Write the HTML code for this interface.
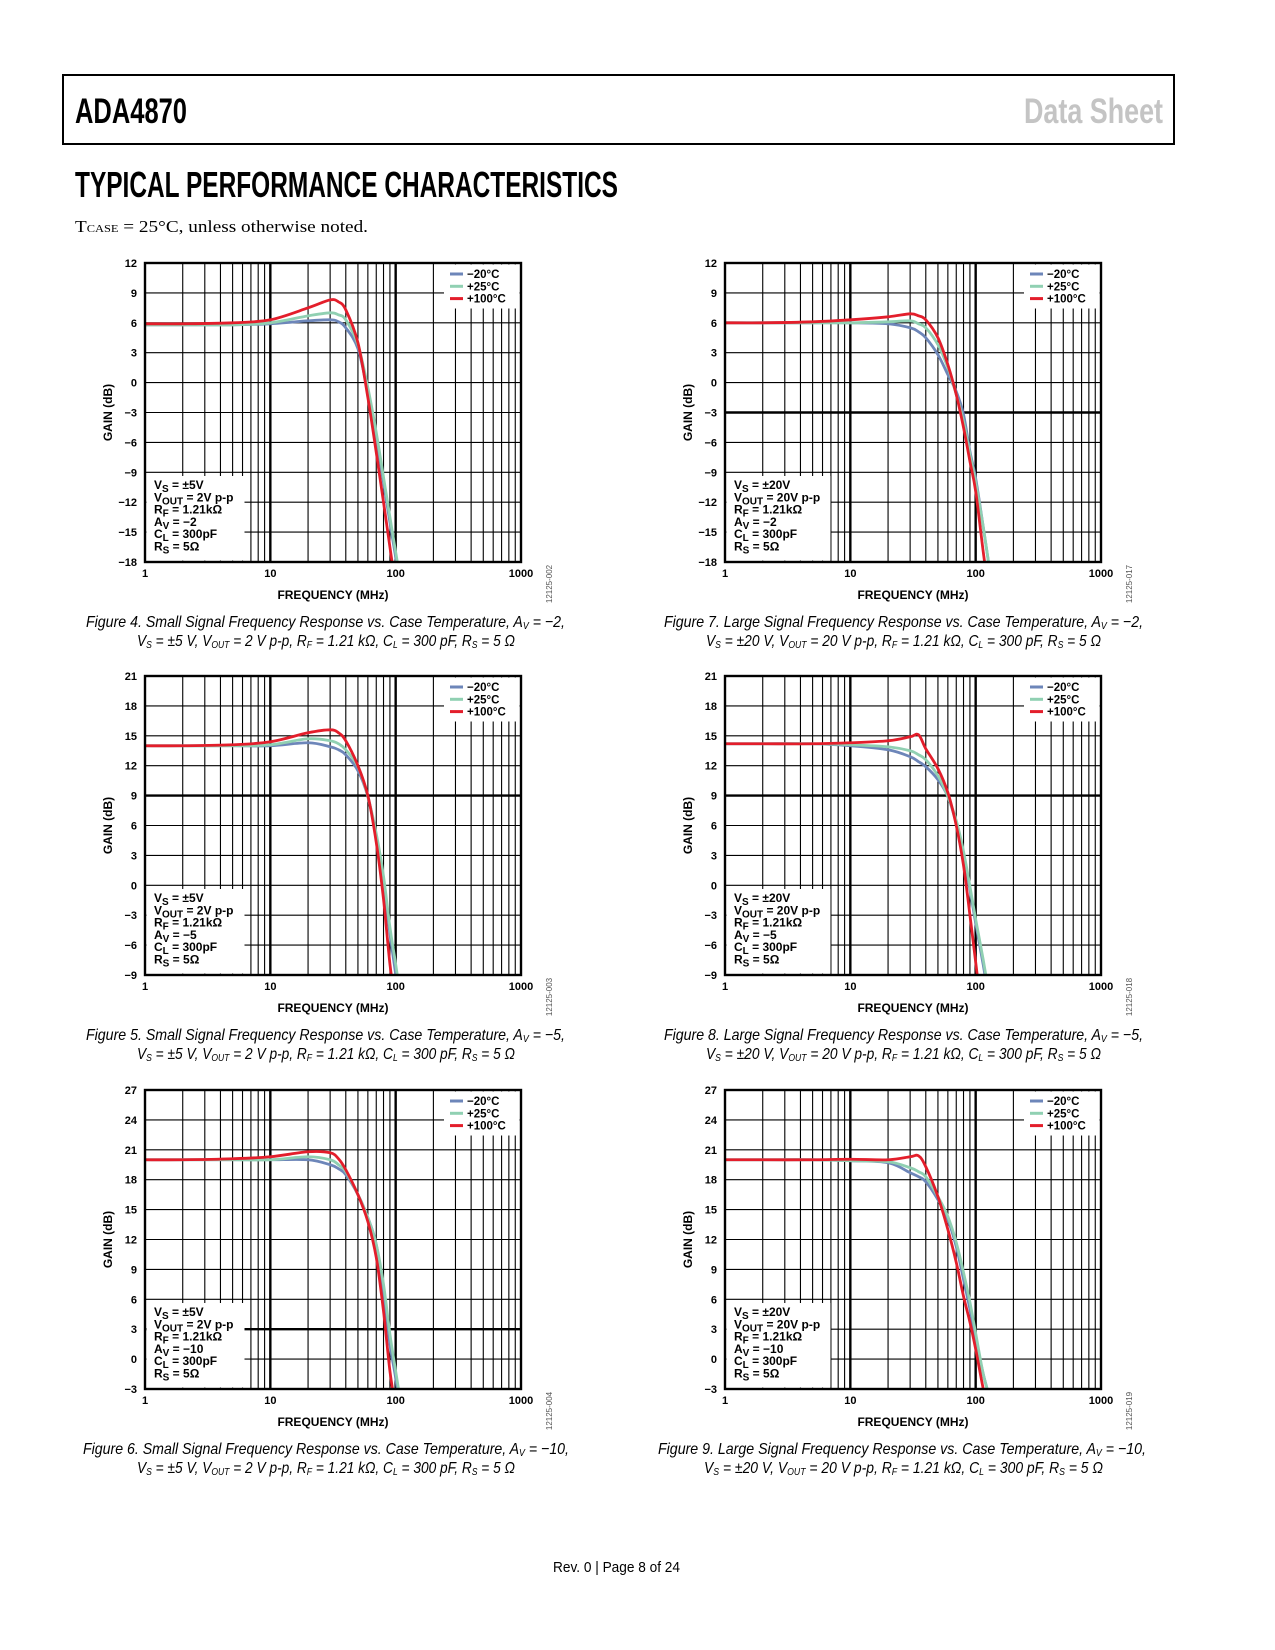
<!DOCTYPE html>
<html><head><meta charset="utf-8"><style>
html,body{margin:0;padding:0;background:#fff;}
svg{display:block;}
text{font-family:"Liberation Sans",sans-serif;}
</style></head><body>
<svg id="page" width="1275" height="1650" viewBox="0 0 1275 1650" xmlns="http://www.w3.org/2000/svg">
<rect x="0" y="0" width="1275" height="1650" fill="#fff"/>
<rect x="63" y="75" width="1111" height="69" fill="none" stroke="#000" stroke-width="2"/>
<text x="75" y="123" font-size="35" font-weight="bold" textLength="112" lengthAdjust="spacingAndGlyphs">ADA4870</text>
<text x="1024" y="123" font-size="35" font-weight="bold" fill="#c4c4c4" textLength="139" lengthAdjust="spacingAndGlyphs">Data Sheet</text>
<text x="75" y="197" font-size="36" font-weight="bold" textLength="543" lengthAdjust="spacingAndGlyphs">TYPICAL PERFORMANCE CHARACTERISTICS</text>
<text x="75" y="232" font-size="17" style="font-family:'Liberation Serif',serif" textLength="293" lengthAdjust="spacingAndGlyphs">T<tspan font-size="11">CASE</tspan> = 25°C, unless otherwise noted.</text>
<text x="553" y="1572" font-size="15" textLength="127" lengthAdjust="spacingAndGlyphs">Rev. 0 | Page 8 of 24</text>
<g id="charts"></g>
</svg>
<script>
// Shared frequency axis (MHz)
const F = [1,2,5,10,20,30,35,40,50,60,70,80,90,100,115,130];
const xTickLabels = ["1","10","100","1000"];
const seriesNames = ["−20°C","+25°C","+100°C"];
// Figure 4 (Av=-2 small signal)
const c1Blue  = [5.8,5.8,5.8,5.9,6.2,6.3,6.1,5.5,3.4,-1,-5.5,-10,-14,-17.5,-22,-26];
const c1Green = [5.8,5.8,5.8,6.0,6.7,7.0,6.8,6.3,3.8,-0.5,-5,-9.5,-13.5,-17,-21.5,-25];
const c1Red   = [5.9,5.9,6.0,6.3,7.5,8.3,8.1,7.3,4,-1.5,-7,-12,-16.5,-20.5,-25,-29];
// Figure 5 (Av=-5 small)
const c2Blue  = [14,14,14,14,14.3,13.9,13.6,13.1,11.5,8.9,4.9,0.2,-4.8,-8.9,-14,-18];
const c2Green = [14,14,14,14.1,14.7,14.5,14.2,13.6,11.9,8.9,5.2,0.9,-4.2,-7.9,-13,-17];
const c2Red   = [14,14,14.1,14.4,15.3,15.6,15.3,14.5,12,9,4.3,-1.4,-7.9,-12,-17,-21];
// Figure 6 (Av=-10 small)
const c3Blue  = [20,20,20,20,20,19.5,19.1,18.5,16.5,14.2,11.5,6.8,1.5,-1.9,-7,-11];
const c3Green = [20,20,20,20,20.3,20,19.5,18.8,16.5,14.2,11.5,7.5,2.5,-1.2,-6,-10];
const c3Red   = [20,20,20.1,20.3,20.8,20.7,20.1,19,16.5,13.8,10.2,4.8,-1.2,-5,-10,-14];
// Figure 7 (Av=-2 large)
const c7Blue  = [6,6,6,6,5.9,5.5,5.1,4.5,2.8,0.8,-0.9,-3.2,-6.9,-9.6,-14.5,-19];
const c7Green = [6,6,6,6,6.1,6.2,5.9,5.5,3.8,1.5,-1.2,-3.9,-7.2,-10,-14.5,-19];
const c7Red   = [6,6,6.1,6.3,6.6,6.9,6.7,6.3,4.5,1.8,-1.2,-4.5,-7.9,-10.9,-17,-22];
// Figure 8 (Av=-5 large)
const c8Blue  = [14.2,14.2,14.2,14,13.6,12.9,12.4,11.9,10.6,8.9,6.2,2.9,-0.4,-3.8,-8,-12];
const c8Green = [14.2,14.2,14.2,14.1,13.9,13.5,13.1,12.6,11,8.9,6.5,3.4,-0.1,-3.4,-7.5,-11.5];
const c8Red   = [14.2,14.2,14.2,14.3,14.5,14.9,15.1,13.7,11.7,9.3,6,2,-3,-7.7,-14,-19];
// Figure 9 (Av=-10 large)
const c9Blue  = [20,20,20,19.9,19.7,18.7,18.3,17.8,16,14,11.3,8,5,2,-1.5,-4];
const c9Green = [20,20,20,19.9,19.8,19.2,18.8,18.3,16.3,14.3,11.7,8.7,5.7,2.6,-1.5,-4];
const c9Red   = [20,20,20,20.05,20,20.3,20.4,19.3,16.3,13,9.7,6.3,3.7,1,-3,-6];
// Y ranges
const yRange1 = [-18,12], yRange2 = [-9,21], yRange3 = [-3,27];

const NS = "http://www.w3.org/2000/svg";
const COLORS = ["#6d86b9","#90d0b2","#e31e2b"];
const W = 376, H = 299;
const root = document.getElementById('charts');

function mk(tag, attrs, parent){
  const e = document.createElementNS(NS, tag);
  for (const k in attrs) e.setAttribute(k, attrs[k]);
  if (parent) parent.appendChild(e);
  return e;
}
function addSubText(t, parts, subSize, shift){
  let cur = 0;
  parts.forEach((p,i)=>{
    const ts = mk('tspan', {}, t);
    ts.textContent = p;
    const target = (i % 2 === 1) ? shift : 0;
    if (target !== cur){ ts.setAttribute('dy', target - cur); cur = target; }
    if (i % 2 === 1) ts.setAttribute('font-size', subSize);
  });
}

const charts = [
 {id:1, x:145, y:263, yr:yRange1, s:[c1Blue,c1Green,c1Red], heavyY:null, code:"12125-002",
  ann:[["V","S"," = ±5V"],["V","OUT"," = 2V p-p"],["R","F"," = 1.21kΩ"],["A","V"," = −2"],["C","L"," = 300pF"],["R","S"," = 5Ω"]], boxW:98,
  cap1:["Figure 4. Small Signal Frequency Response vs. Case Temperature, A","V"," = −2,"],
  cap2:["V","S"," = ±5 V, V","OUT"," = 2 V p-p, R","F"," = 1.21 kΩ, C","L"," = 300 pF, R","S"," = 5 Ω"], c1:[86,479], c2:[137,378]},
 {id:2, x:145, y:676, yr:yRange2, s:[c2Blue,c2Green,c2Red], heavyY:9, code:"12125-003",
  ann:[["V","S"," = ±5V"],["V","OUT"," = 2V p-p"],["R","F"," = 1.21kΩ"],["A","V"," = −5"],["C","L"," = 300pF"],["R","S"," = 5Ω"]], boxW:98,
  cap1:["Figure 5. Small Signal Frequency Response vs. Case Temperature, A","V"," = −5,"],
  cap2:["V","S"," = ±5 V, V","OUT"," = 2 V p-p, R","F"," = 1.21 kΩ, C","L"," = 300 pF, R","S"," = 5 Ω"], c1:[86,479], c2:[137,378]},
 {id:3, x:145, y:1090, yr:yRange3, s:[c3Blue,c3Green,c3Red], heavyY:3, code:"12125-004",
  ann:[["V","S"," = ±5V"],["V","OUT"," = 2V p-p"],["R","F"," = 1.21kΩ"],["A","V"," = −10"],["C","L"," = 300pF"],["R","S"," = 5Ω"]], boxW:98,
  cap1:["Figure 6. Small Signal Frequency Response vs. Case Temperature, A","V"," = −10,"],
  cap2:["V","S"," = ±5 V, V","OUT"," = 2 V p-p, R","F"," = 1.21 kΩ, C","L"," = 300 pF, R","S"," = 5 Ω"], c1:[83,486], c2:[137,378]},
 {id:7, x:725, y:263, yr:yRange1, s:[c7Blue,c7Green,c7Red], heavyY:-3, code:"12125-017",
  ann:[["V","S"," = ±20V"],["V","OUT"," = 20V p-p"],["R","F"," = 1.21kΩ"],["A","V"," = −2"],["C","L"," = 300pF"],["R","S"," = 5Ω"]], boxW:104,
  cap1:["Figure 7. Large Signal Frequency Response vs. Case Temperature, A","V"," = −2,"],
  cap2:["V","S"," = ±20 V, V","OUT"," = 20 V p-p, R","F"," = 1.21 kΩ, C","L"," = 300 pF, R","S"," = 5 Ω"], c1:[664,479], c2:[706,395]},
 {id:8, x:725, y:676, yr:yRange2, s:[c8Blue,c8Green,c8Red], heavyY:9, code:"12125-018",
  ann:[["V","S"," = ±20V"],["V","OUT"," = 20V p-p"],["R","F"," = 1.21kΩ"],["A","V"," = −5"],["C","L"," = 300pF"],["R","S"," = 5Ω"]], boxW:104,
  cap1:["Figure 8. Large Signal Frequency Response vs. Case Temperature, A","V"," = −5,"],
  cap2:["V","S"," = ±20 V, V","OUT"," = 20 V p-p, R","F"," = 1.21 kΩ, C","L"," = 300 pF, R","S"," = 5 Ω"], c1:[664,479], c2:[706,395]},
 {id:9, x:725, y:1090, yr:yRange3, s:[c9Blue,c9Green,c9Red], heavyY:null, code:"12125-019",
  ann:[["V","S"," = ±20V"],["V","OUT"," = 20V p-p"],["R","F"," = 1.21kΩ"],["A","V"," = −10"],["C","L"," = 300pF"],["R","S"," = 5Ω"]], boxW:104,
  cap1:["Figure 9. Large Signal Frequency Response vs. Case Temperature, A","V"," = −10,"],
  cap2:["V","S"," = ±20 V, V","OUT"," = 20 V p-p, R","F"," = 1.21 kΩ, C","L"," = 300 pF, R","S"," = 5 Ω"], c1:[658,488], c2:[704,399]}
];

charts.forEach(c=>{
  const g = mk('g', {transform:`translate(${c.x},${c.y})`}, root);
  
  
  const xs = f => W * Math.log10(f) / 3;
  const ys = v => H * (c.yr[1] - v) / (c.yr[1] - c.yr[0]);

  const grid = mk('g', {}, g);
  
  
  for (let d=0; d<3; d++){
    for (let m=1; m<=10; m++){
      const f = Math.pow(10,d)*m;
      const X = xs(f);
      const heavy = (m===10 && d<2);
      const ln = mk('line', {x1:X, x2:X, y1:0, y2:H, stroke:'#000', 'stroke-width': heavy?2.4:1.1}, grid);
      
      
    }
  }
  for (let v=c.yr[0]; v<=c.yr[1]; v+=3){
    const Y = ys(v);
    const ln = mk('line', {x1:0, x2:W, y1:Y, y2:Y, stroke:'#000', 'stroke-width': (v===c.heavyY)?2.4:1.1}, grid);
    
    
    const t = mk('text', {x:-8, y:Y+4, 'text-anchor':'end', 'font-size':11, 'font-weight':'bold'}, g);
    t.textContent = v < 0 ? '−' + (-v) : String(v);
    
    
  }
  xTickLabels.forEach((lab)=>{
    const t = mk('text', {x:xs(Number(lab)), y:H+15, 'text-anchor':'middle', 'font-size':11, 'font-weight':'bold'}, g);
    t.textContent = lab;
    
    
  });

  const cid = 'clip' + c.id;
  const cp = mk('clipPath', {id:cid}, g);
  mk('rect', {x:0, y:0, width:W, height:H}, cp);

  c.s.forEach((arr, si)=>{
    const pts = F.map((f,i)=>[xs(f), ys(arr[i])]);
    let d = `M${pts[0][0].toFixed(2)},${pts[0][1].toFixed(2)}`;
    for (let i=0;i<pts.length-1;i++){
      const p0 = pts[Math.max(0,i-1)], p1 = pts[i], p2 = pts[i+1], p3 = pts[Math.min(pts.length-1,i+2)];
      const k = 1/6;
      const c1x = p1[0] + (p2[0]-p0[0])*k, c1y = p1[1] + (p2[1]-p0[1])*k;
      const c2x = p2[0] - (p3[0]-p1[0])*k, c2y = p2[1] - (p3[1]-p1[1])*k;
      d += ` C${c1x.toFixed(2)},${c1y.toFixed(2)} ${c2x.toFixed(2)},${c2y.toFixed(2)} ${p2[0].toFixed(2)},${p2[1].toFixed(2)}`;
    }
    const p = mk('path', {d:d, fill:'none', stroke:COLORS[si], 'stroke-width':2.8, 'stroke-linejoin':'round', 'clip-path':`url(#${cid})`}, g);
    
    
  });

  const ab = mk('g', {}, g);
  
  
  mk('rect', {x:1.5, y:213, width:c.boxW, height:H-214.5, fill:'#fff'}, ab);
  c.ann.forEach((parts, i)=>{
    const t = mk('text', {x:9, y:226 + i*12.3, 'font-size':12, 'font-weight':'bold'}, ab);
    addSubText(t, parts, 10, 3);
  });

  const lg = mk('g', {}, g);
  
  
  mk('rect', {x:299, y:1.5, width:W-300.5, height:44, fill:'#fff'}, lg);
  seriesNames.forEach((nm, i)=>{
    const yy = 11 + i*12.3;
    const sw = mk('line', {x1:305, x2:318, y1:yy, y2:yy, stroke:COLORS[i], 'stroke-width':3}, lg);
    
    
    const t = mk('text', {x:322, y:yy+4, 'font-size':11.5, 'font-weight':'bold'}, lg);
    t.textContent = nm;
    
    
  });

  const fr = mk('rect', {x:0, y:0, width:W, height:H, fill:'none', stroke:'#000', 'stroke-width':2.4}, g);
  
  

  const xt = mk('text', {x:W/2, y:H+37, 'text-anchor':'middle', 'font-size':12, 'font-weight':'bold'}, g);
  xt.textContent = 'FREQUENCY (MHz)';
  
  
  const yt = mk('text', {x:0, y:0, 'text-anchor':'middle', 'font-size':12, 'font-weight':'bold', transform:`translate(-33,${H/2}) rotate(-90)`}, g);
  yt.textContent = 'GAIN (dB)';
  
  
  const ct = mk('text', {x:0, y:0, 'text-anchor':'middle', 'font-size':8, fill:'#555', transform:`translate(${W+31},${H+22}) rotate(-90)`}, g);
  ct.textContent = c.code;
  
  

  const t1 = mk('text', {x:c.c1[0], y:c.y+364, 'font-size':16, 'font-style':'italic', textLength:c.c1[1], lengthAdjust:'spacingAndGlyphs'}, root);
  addSubText(t1, c.cap1, 10, 2);
  
  
  const t2 = mk('text', {x:c.c2[0], y:c.y+383, 'font-size':16, 'font-style':'italic', textLength:c.c2[1], lengthAdjust:'spacingAndGlyphs'}, root);
  addSubText(t2, c.cap2, 10, 2);
  
  
});
</script>
</body></html>
